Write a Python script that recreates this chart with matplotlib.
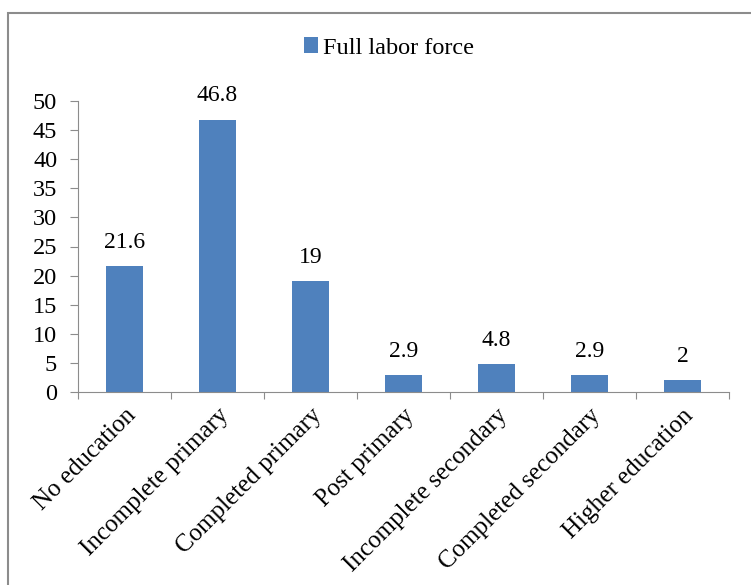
import matplotlib.pyplot as plt
from matplotlib.patches import Rectangle

categories = ['No education', 'Incomplete primary', 'Completed primary', 'Post primary',
              'Incomplete secondary', 'Completed secondary', 'Higher education']
values = [21.6, 46.8, 19, 2.9, 4.8, 2.9, 2]
value_labels = ['21.6', '46.8', '19', '2.9', '4.8', '2.9', '2']
series_name = 'Full labor force'

plt.rcParams['font.family'] = ['Liberation Serif', 'DejaVu Serif']

W, H = 751, 585
fig = plt.figure(figsize=(W / 100, H / 100), dpi=100)

# outer chart border (clipped at right and bottom like the source)
fig.patches.append(Rectangle((8 / W, -0.05), 1.1, 1 - 13 / H + 0.05,
                             transform=fig.transFigure, fill=False,
                             edgecolor='#8c8c8c', linewidth=1.5))

ax = fig.add_axes([78 / W, 1 - 392 / H, (729 - 78) / W, (392 - 101) / H])

x = range(len(categories))
bars = ax.bar(x, values, width=0.4, color='#4f81bd', label=series_name)

for xi, v, lab in zip(x, values, value_labels):
    ax.text(xi, v + 2.3, lab, ha='center', va='bottom', fontsize=17)

ax.set_xlim(-0.5, len(categories) - 0.5)
ax.set_ylim(0, 50)
ax.set_yticks(range(0, 51, 5))
ax.tick_params(axis='y', labelsize=17.5, length=6, color='#8c8c8c', direction='out', pad=9)

# category ticks at the boundaries, labels centered under bars
ax.set_xticks([i - 0.5 for i in range(len(categories) + 1)])
ax.set_xticklabels([])
ax.tick_params(axis='x', length=5, color='#8c8c8c', direction='out')
ax.set_xticks(list(x), minor=True)
ax.set_xticklabels(categories, minor=True, rotation=45, ha='right',
                   rotation_mode='anchor', fontsize=18)
ax.tick_params(axis='x', which='minor', length=0, pad=9)

for side in ['top', 'right']:
    ax.spines[side].set_visible(False)
for side in ['left', 'bottom']:
    ax.spines[side].set_color('#8c8c8c')

leg = fig.legend(handles=[bars], labels=[series_name], loc='center',
                 bbox_to_anchor=(389 / W, 1 - 48 / H), frameon=False,
                 fontsize=17.5, handlelength=0.6, handleheight=0.6, handletextpad=0.2)

fig.savefig('out.png', dpi=100)
